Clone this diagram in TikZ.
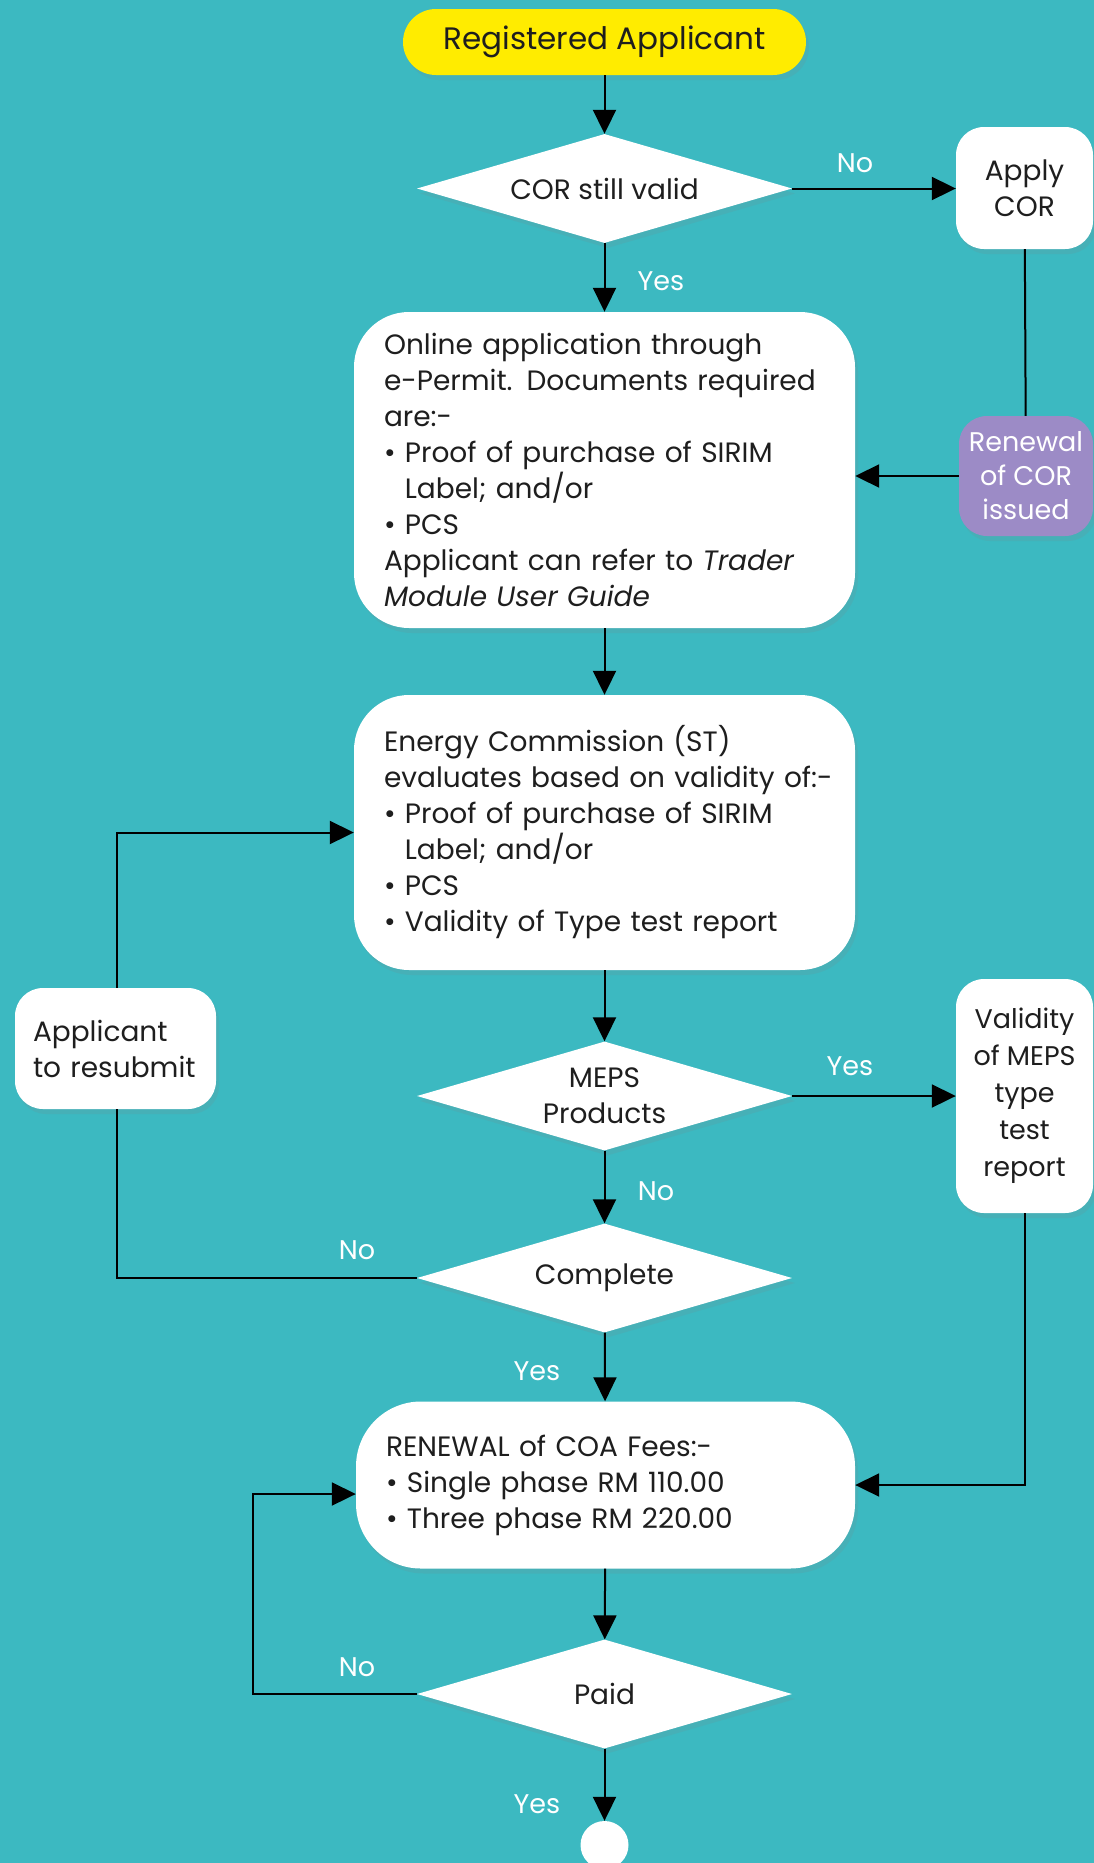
\documentclass[tikz,border=0pt]{standalone}
\usepackage{fontspec}
\setmainfont{Poppins}
\usetikzlibrary{shapes.geometric,arrows.meta,shadows,calc}
\definecolor{bg}{HTML}{3CB9C1}
\definecolor{ylw}{HTML}{FFEC00}
\definecolor{prp}{HTML}{9C8BC6}
\definecolor{ink}{HTML}{1E1E1E}
\tikzset{
  base/.style={font=\fontsize{28}{36}\selectfont, text=ink, inner sep=0pt},
  shade/.style={drop shadow={opacity=0.15,shadow xshift=3pt,shadow yshift=-5pt}},
  bigbox/.style={base, fill=white, rounded corners=55pt, shade, align=left,
                 minimum width=501pt, text width=441pt},
  smallbox/.style={base, fill=white, rounded corners=28pt, shade, align=center},
  pill/.style={base, fill=ylw, rounded corners=33pt, shade, minimum width=403pt, minimum height=66pt,
               font=\fontsize{31}{36}\selectfont},
  dia/.style={base, diamond, fill=white, shade, aspect=3.44, align=center,
              minimum width=375pt, minimum height=109pt},
  lbl/.style={font=\fontsize{27}{30}\selectfont, text=white, inner sep=0pt},
  conn/.style={line width=2pt, draw=black},
  arr/.style={conn, -{Triangle[length=24pt,width=23pt]}},
}
\begin{document}
\begin{tikzpicture}[x=1pt,y=-1pt]
\useasboundingbox (0,0) rectangle (1094,1863);
\fill[bg] (0,0) rectangle (1094,1863);

% nodes
\node[pill] (reg) at (604.5,42) {Registered Applicant};
\node[dia] (cor) at (604.5,188.5) {COR still valid};
\node[smallbox, minimum width=137pt, minimum height=122pt] (apply) at (1024.5,188) {Apply\\COR};
\node[smallbox, fill=prp, text=white, minimum width=134pt, minimum height=120pt,
      font=\fontsize{27}{34}\selectfont] (rcor) at (1026,476) {Renewal\\of COR\\issued};
\node[bigbox, minimum height=316pt] (online) at (604.5,470) {Online application through\\
\mbox{e-Permit. Documents required}\\
are:-\\
• Proof of purchase of SIRIM\\
\hphantom{• }Label; and/or\\
• PCS\\
\mbox{Applicant can refer to \textit{Trader}}\\
\textit{Module User Guide}};
\node[bigbox, minimum height=275pt] (energy) at (604.5,832.5) {Energy Commission (ST)\\
\mbox{evaluates based on validity of:-}\\
• Proof of purchase of SIRIM\\
\hphantom{• }Label; and/or\\
• PCS\\
\mbox{• Validity of Type test report}};
\node[dia] (meps) at (604.5,1096) {MEPS\\Products};
\node[smallbox, minimum width=137pt, minimum height=234pt,
      font=\fontsize{27}{37}\selectfont] (valid) at (1024.5,1096) {Validity\\of MEPS\\type\\test\\report};
\node[smallbox, align=left, minimum width=201pt, minimum height=121pt, text width=165pt] (resub) at (115.5,1048.5) {Applicant\\to resubmit};
\node[dia] (complete) at (604.5,1278) {Complete};
\node[bigbox, rounded corners=65pt, minimum width=499pt, text width=439pt, minimum height=167pt] (fees) at (605.5,1485) {RENEWAL of COA Fees:-\\
• Single phase RM 110.00\\
• Three phase RM 220.00};
\node[dia] (paid) at (604.5,1694) {Paid};
\node[circle, fill=white, minimum size=48pt, inner sep=0pt] (end) at (604.5,1845) {};

\coordinate (loopA) at (117,1276.5);
\coordinate (loopB) at (253,1494);

% connectors
\draw[arr] (reg) -- (cor);
\draw[arr] (cor) -- (apply.west |- cor);
\draw[conn] (apply) -- (rcor);
\draw[arr] (rcor) -- (online.east |- rcor);
\draw[arr] (cor) -- (online);
\draw[arr] (online) -- (energy);
\draw[arr] (energy) -- (meps);
\draw[arr] (meps) -- (valid);
\draw[arr] (meps) -- (complete);
\draw[conn] (complete.west) -- (loopA |- complete.west) -- (loopA |- resub.south);
\draw[arr] (loopA |- resub.north) |- (energy.west);
\draw[arr] (complete) -- (fees);
\draw[arr] (valid.south) |- (fees.east);
\draw[arr] (fees) -- (paid);
\draw[arr] (paid.west) -| (loopB) -- (fees.west |- loopB);
\draw[arr] (paid) -- (end);

% labels
\node[lbl] (l1) at (855,163) {No};
\node[lbl] (l2) at (661,281) {Yes};
\node[lbl] (l3) at (850,1066) {Yes};
\node[lbl] (l4) at (656,1191) {No};
\node[lbl] (l5) at (357,1250) {No};
\node[lbl] (l6) at (537,1371) {Yes};
\node[lbl] (l7) at (357,1667) {No};
\node[lbl] (l8) at (537,1804) {Yes};
\end{tikzpicture}
\end{document}
